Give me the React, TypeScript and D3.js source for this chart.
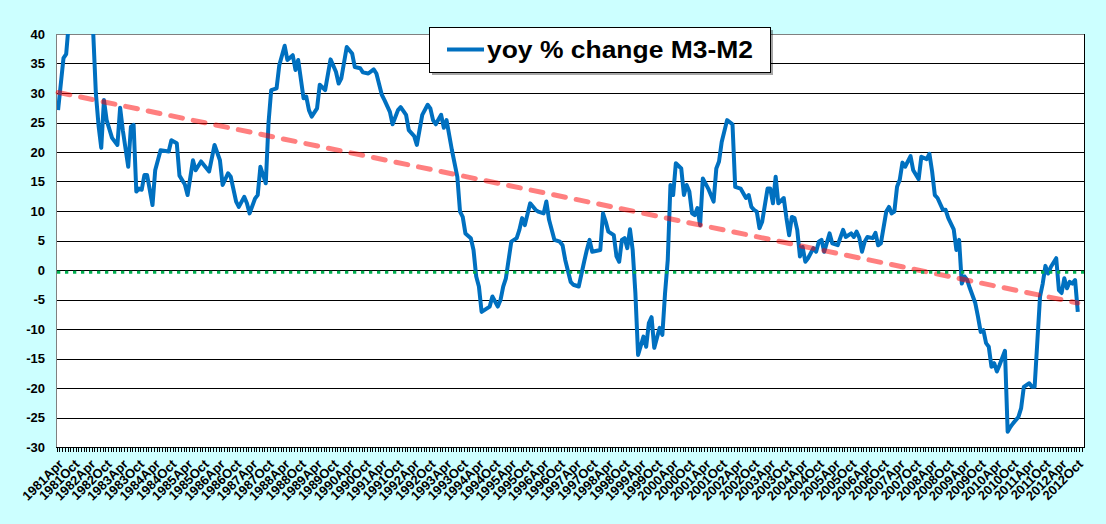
import React, { useEffect, useRef } from "react";
import * as d3 from "d3";

const W = 1106;
const H = 524;

// category axis: one category per month, 1981 Apr .. 2012 Oct
const firstYear = 1981;
const firstMonth = 3; // April (zero based)
const monthCount = 379;
const monthNames = ["Jan", "Feb", "Mar", "Apr", "May", "Jun", "Jul", "Aug", "Sep", "Oct", "Nov", "Dec"];

const yTicks = [40, 35, 30, 25, 20, 15, 10, 5, 0, -5, -10, -15, -20, -25, -30];

// months counted from 1981 Apr
// (1981/82 peak runs off the top of the axis, those values are guesses)
const yoyMonth = [
  0, 2, 3, 4, 6, 9, 12, 13, 14, 15, 16, 17, 18, 20, 22, 23, 24, 26, 27, 28, 29, 30, 31, 32, 33, 35,
  36, 38, 41, 42, 44, 45, 47, 48, 50, 51, 53, 56, 58, 60, 61, 63, 64, 66, 67, 69, 70, 71, 73, 74,
  75, 77, 78, 79, 81, 82, 84, 85, 87, 88, 89, 91, 92, 93, 94, 96, 97, 99, 101, 103, 104, 105, 107,
  109, 110, 112, 113, 115, 117, 118, 120, 121, 123, 124, 126, 127, 129, 130, 132, 133, 135, 137,
  138, 139, 140, 142, 143, 144, 146, 148, 149, 150, 151, 153, 154, 155, 156, 157, 159, 160, 161,
  163, 164, 165, 166, 168, 170, 171, 172, 173, 175, 177, 178, 180, 181, 182, 184, 186, 187, 188,
  190, 191, 193, 195, 196, 197, 198, 201, 202, 203, 204, 206, 207, 208, 209, 210, 211, 212, 213,
  214, 215, 217, 218, 219, 220, 221, 223, 224, 225, 226, 227, 228, 229, 231, 232, 233, 234, 235,
  236, 237, 238, 239, 241, 243, 244, 245, 246, 248, 250, 251, 253, 254, 255, 256, 257, 258, 259,
  260, 261, 263, 264, 265, 266, 267, 269, 270, 271, 272, 273, 274, 275, 276, 277, 278, 280, 281,
  282, 283, 284, 286, 287, 289, 291, 292, 294, 295, 296, 297, 298, 299, 300, 302, 303, 304, 305,
  307, 308, 309, 310, 311, 312, 313, 314, 316, 317, 319, 320, 322, 323, 324, 325, 326, 328, 329,
  330, 332, 333, 334, 335, 336, 337, 338, 340, 341, 342, 343, 344, 345, 346, 347, 348, 349, 351,
  352, 353, 354, 356, 357, 358, 360, 361, 362, 364, 365, 366, 367, 368, 370, 371, 372, 373, 374,
  375, 376, 377, 378,
];
const yoyValue = [
  27.1, 35.9, 36.6, 42, 47, 50, 45, 40.5, 30, 24.5, 20.7, 28.8, 25.4, 22.4, 21.2, 27.5, 23.7, 17.5,
  24.3, 24.6, 13.3, 13.8, 13.6, 16.1, 16.1, 11.0, 16.9, 20.3, 20.1, 22.0, 21.5, 16.0, 14.5, 12.7,
  18.6, 16.9, 18.4, 16.7, 21.2, 18.6, 14.4, 16.4, 15.8, 11.6, 10.7, 12.4, 11.3, 9.6, 12.1, 12.7,
  17.5, 14.7, 24.9, 30.5, 30.8, 34.7, 38.0, 35.6, 36.4, 33.9, 35.6, 29.1, 29.4, 27.1, 26.0, 27.4,
  31.4, 30.5, 35.7, 33.6, 31.6, 32.5, 37.8, 36.7, 34.4, 34.2, 33.5, 33.3, 34.0, 33.3, 29.7, 28.8,
  26.8, 24.7, 27.1, 27.6, 26.3, 23.7, 22.7, 21.2, 26.3, 28.0, 27.4, 25.4, 24.7, 26.3, 24.1, 25.4,
  20.3, 15.8, 9.9, 9.0, 6.2, 5.4, 3.4, -1.1, -2.8, -7.1, -6.5, -6.2, -4.5, -6.2, -5.1, -2.8, -1.4,
  4.8, 5.4, 6.8, 8.8, 7.6, 11.3, 10.2, 9.9, 9.6, 11.6, 8.5, 5.1, 4.8, 4.2, 1.7, -2.0, -2.5, -2.8,
  1.4, 3.4, 5.1, 3.1, 3.4, 9.6, 8.2, 6.5, 5.9, 2.3, 1.4, 5.1, 5.4, 3.7, 6.9, 3.4, -3.9, -14.4,
  -11.3, -13.0, -9.0, -8.0, -13.2, -9.8, -11.0, -3.9, 1.7, 14.4, 12.7, 18.1, 17.2, 12.7, 14.4,
  13.3, 9.6, 9.3, 10.5, 7.6, 15.5, 13.8, 11.6, 17.2, 18.4, 21.7, 25.4, 24.7, 14.1, 13.8, 13.0,
  12.2, 12.7, 10.7, 10.2, 9.9, 7.1, 8.2, 13.8, 13.8, 11.3, 15.8, 11.3, 12.2, 8.8, 5.9, 9.0, 8.8,
  6.8, 2.3, 3.9, 1.4, 2.0, 3.7, 3.1, 4.8, 5.1, 3.1, 6.2, 4.5, 4.2, 6.8, 5.6, 6.2, 5.6, 6.5, 5.5,
  3.1, 4.8, 5.6, 5.4, 6.3, 4.2, 4.5, 9.9, 10.7, 9.6, 9.9, 14.1, 15.3, 18.2, 17.5, 19.3, 16.9,
  15.4, 19.2, 18.8, 19.7, 16.7, 12.7, 12.2, 10.2, 10.2, 8.8, 6.9, 3.4, 5.1, -2.3, -1.1, -1.7,
  -3.1, -5.6, -7.9, -10.5, -10.2, -12.4, -13.0, -16.4, -15.8, -17.2, -16.1, -13.7, -27.4, -26.6,
  -26.0, -24.9, -23.4, -19.8, -19.2, -19.8, -19.8, -4.5, -2.3, 0.7, -0.6, 0.5, 2.0, -3.4, -3.9,
  -1.4, -3.1, -2.0, -2.3, -1.7, -7.1,
];

// linear trend, value at the first and the last month
const trendValues = [30.1, -5.6];
// green dotted reference level
const refLevel = -0.4;

const seriesName = "yoy % change M3-M2";

const App = () => {
  const ref = useRef(null);

  useEffect(() => {
    const svg = d3.select(ref.current);
    svg.selectAll("*").remove();

    const left = 57, right = 1084, top = 34, bottom = 447;
    const x = d3.scaleLinear().domain([-0.4, 380.3]).range([left, right]);
    const y = d3.scaleLinear().domain([-30, 40]).range([bottom, top]);
    const font = "Arial, 'Liberation Sans', sans-serif";

    svg.append("rect").attr("width", W).attr("height", H).attr("fill", "#ccffff");
    svg
      .append("rect")
      .attr("x", left)
      .attr("y", top)
      .attr("width", right - left)
      .attr("height", bottom - top)
      .attr("fill", "white");

    // gridlines
    svg
      .append("g")
      .selectAll("line")
      .data(yTicks.filter((t) => t > -30 && t < 40))
      .join("line")
      .attr("x1", left)
      .attr("x2", right)
      .attr("y1", (d) => Math.round(y(d)) + 0.5)
      .attr("y2", (d) => Math.round(y(d)) + 0.5)
      .attr("stroke", "black")
      .attr("stroke-width", 1);

    // plot border
    svg.append("line").attr("x1", left - 0.5).attr("x2", left - 0.5).attr("y1", top).attr("y2", bottom).attr("stroke", "#808080");
    svg.append("line").attr("x1", left).attr("x2", right).attr("y1", top + 0.5).attr("y2", top + 0.5).attr("stroke", "#808080");
    svg.append("line").attr("x1", right + 0.5).attr("x2", right + 0.5).attr("y1", top).attr("y2", bottom).attr("stroke", "black");
    svg.append("line").attr("x1", left - 1).attr("x2", right + 1).attr("y1", bottom + 0.5).attr("y2", bottom + 0.5).attr("stroke", "black");

    // y labels
    svg
      .append("g")
      .selectAll("text")
      .data(yTicks)
      .join("text")
      .attr("x", 45)
      .attr("y", (d) => y(d))
      .attr("dy", "0.36em")
      .attr("text-anchor", "end")
      .style("font-family", font)
      .style("font-weight", "bold")
      .style("font-size", "13px")
      .text((d) => d);

    // monthly tick marks
    const months = d3.range(monthCount + 2);
    svg
      .append("g")
      .selectAll("line")
      .data(months)
      .join("line")
      .attr("x1", (d) => Math.round(x(d - 0.5)) + 0.5)
      .attr("x2", (d) => Math.round(x(d - 0.5)) + 0.5)
      .attr("y1", bottom)
      .attr("y2", bottom + 5)
      .attr("stroke", "black");

    // half-year labels
    const labelMonths = months.filter((m) => m < monthCount && m % 6 === 0);
    const labelOf = (m: number) => {
      const k = firstMonth + m;
      return `${firstYear + Math.floor(k / 12)}${monthNames[k % 12]}`;
    };
    svg
      .append("g")
      .selectAll("text")
      .data(labelMonths)
      .join("text")
      .attr("transform", (d) => `translate(${x(d) + 6},${bottom + 18}) rotate(-45)`)
      .attr("text-anchor", "end")
      .style("font-family", font)
      .style("font-weight", "bold")
      .style("font-size", "13px")
      .text(labelOf);

    svg
      .append("clipPath")
      .attr("id", "plot-clip")
      .append("rect")
      .attr("x", left)
      .attr("y", top)
      .attr("width", right - left)
      .attr("height", bottom - top);

    const pts: [number, number][] = yoyMonth.map((m, i) => [m, yoyValue[i]]);
    const line = d3
      .line<[number, number]>()
      .x((d) => x(d[0]))
      .y((d) => y(d[1]));

    svg
      .append("path")
      .attr("clip-path", "url(#plot-clip)")
      .attr("d", line(pts))
      .attr("fill", "none")
      .attr("stroke", "#0070c0")
      .attr("stroke-width", 4)
      .attr("stroke-linejoin", "round");

    // trend line
    svg
      .append("line")
      .attr("x1", x(0))
      .attr("x2", x(monthCount - 1))
      .attr("y1", y(trendValues[0]))
      .attr("y2", y(trendValues[1]))
      .attr("stroke", "#ff0000")
      .attr("stroke-opacity", 0.5)
      .attr("stroke-width", 5)
      .attr("stroke-linecap", "round")
      .attr("stroke-dasharray", "12 11");

    // reference level
    svg
      .append("line")
      .attr("x1", left)
      .attr("x2", right)
      .attr("y1", y(refLevel))
      .attr("y2", y(refLevel))
      .attr("stroke", "#00b050")
      .attr("stroke-width", 3)
      .attr("stroke-dasharray", "3.3 4.7");

    // legend
    const lg = svg.append("g");
    lg.append("rect").attr("x", 432).attr("y", 30).attr("width", 341).attr("height", 45).attr("fill", "#000").attr("opacity", 0.35);
    lg.append("rect").attr("x", 429.5).attr("y", 27.5).attr("width", 341).attr("height", 45).attr("fill", "white").attr("stroke", "black");
    lg.append("line").attr("x1", 447).attr("x2", 484).attr("y1", 49.5).attr("y2", 49.5).attr("stroke", "#0070c0").attr("stroke-width", 4);
    lg.append("text")
      .attr("x", 487)
      .attr("y", 57.5)
      .attr("textLength", 266)
      .attr("lengthAdjust", "spacingAndGlyphs")
      .style("font-family", font)
      .style("font-weight", "bold")
      .style("font-size", "24px")
      .text(seriesName);
  }, []);

  return <svg ref={ref} width={W} height={H} style={{ position: "absolute", left: 0, top: 0 }} />;
};

export default App;
